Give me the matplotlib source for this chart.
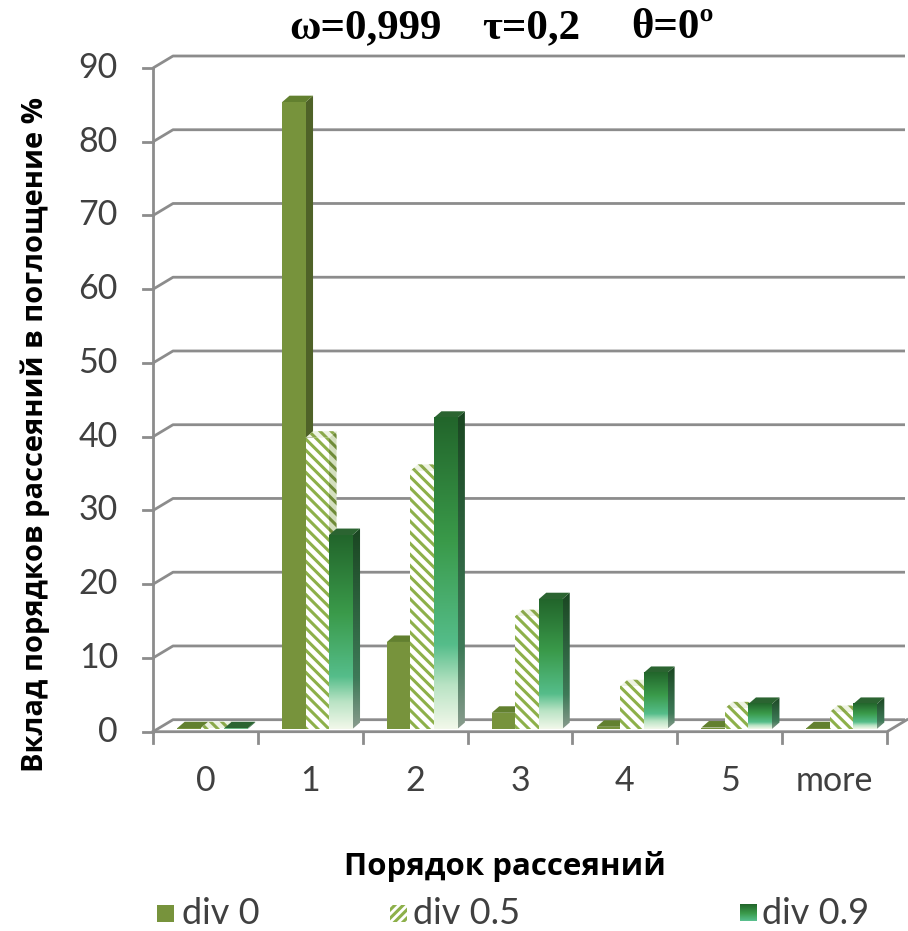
import matplotlib.pyplot as plt
import numpy as np
from matplotlib.patches import Polygon, Rectangle
from matplotlib.colors import LinearSegmentedColormap

plt.rcParams['hatch.linewidth'] = 2.2

categories = ['0', '1', '2', '3', '4', '5', 'more']
div0 = [0.1, 85.0, 11.8, 2.2, 0.3, 0.2, 0.1]
div05 = [0.1, 39.5, 35.0, 15.3, 5.8, 2.8, 2.3]
div09 = [0.1, 26.3, 42.2, 17.6, 7.6, 3.4, 3.4]
series_names = ['div 0', 'div 0.5', 'div 0.9']
y_ticks = list(range(0, 100, 10))

W, H = 908, 931
fig = plt.figure(figsize=(W / 100, H / 100), dpi=100)

# axes = front plane of the 3d box (pixel box)
x0px, x1px, ytop, ybot = 153, 887, 68, 731.7
ax = fig.add_axes([x0px / W, (H - ybot) / H, (x1px - x0px) / W, (ybot - ytop) / H])
ncat = len(categories)
ax.axis('off')

ppx = (x1px - x0px) / ncat
ppy = (ybot - ytop) / 90


def px(dx, dy):
    return dx / ppx, dy / ppy


grid_c = '#8c8c8c'
txt_c = '#404040'
num_font = 'Lato'
cyr_font = 'Open Sans'
num_size = 24.5

# back wall / floor
wdx, wdy = px(20, 12)
xr_end = -0.5 + (905 - x0px) / ppx
for v in y_ticks:
    ax.plot([-0.5, -0.5 + wdx, xr_end], [v, v + wdy, v + wdy], color=grid_c,
            lw=2.0, clip_on=False, zorder=1, solid_capstyle='butt')
    ax.plot([-0.5 - 10 / ppx, -0.5], [v, v], color=grid_c, lw=2.0, clip_on=False, zorder=1)
    ax.text(-0.5 - 35 / ppx, v, str(v), ha='right', va='center', fontsize=num_size,
            color=txt_c, family=num_font)
ax.plot([-0.5, -0.5], [0, 90], color=grid_c, lw=2.0, clip_on=False, zorder=1)
ax.plot([-0.5, ncat - 0.5, ncat - 0.5 + wdx], [0, 0, wdy], color=grid_c, lw=2.0,
        clip_on=False, zorder=1)
for b in np.arange(-0.5, ncat):
    ax.plot([b, b], [0, -11 / ppy], color=grid_c, lw=2.0, clip_on=False, zorder=1)
for i, c in enumerate(categories):
    ax.text(i, -(781 - ybot) / ppy, c, ha='center', va='center', fontsize=num_size,
            color=txt_c, family=num_font)

# bar geometry
bdx, bdy = px(7, 2.7)
w = 23.5 / ppx
ddx, ddy = px(7.5, 6.5)

front_cmap = LinearSegmentedColormap.from_list('front', [
    (0.0, '#f2f8ea'), (0.14, '#b9e3c4'), (0.27, '#55bd8a'),
    (0.6, '#3a9a4a'), (1.0, '#22652b')])
side_cmap = LinearSegmentedColormap.from_list('side', [
    (0.0, '#8a9c8e'), (0.25, '#3e7a58'), (1.0, '#1a4621')])
grad = np.linspace(1, 0, 256).reshape(-1, 1)

z = 3.0
for i in range(ncat):
    for j, vals in enumerate([div0, div05, div09]):
        v = vals[i]
        xl = i + bdx - 1.5 * w + j * w
        xr = xl + w
        b, t = bdy, bdy + v
        side = [(xr, b), (xr + ddx, b + ddy), (xr + ddx, t + ddy), (xr, t)]
        top = [(xl, t), (xr, t), (xr + ddx, t + ddy), (xl + ddx, t + ddy)]
        if j == 0:
            ax.add_patch(Polygon(side, closed=True, fc='#4f6228', lw=0, zorder=z))
            ax.add_patch(Polygon(top, closed=True, fc='#62802f', lw=0, zorder=z + 0.001))
            ax.add_patch(Rectangle((xl, b), w, v, fc='#77933c', lw=0, zorder=z + 0.002))
        elif j == 1:
            ax.add_patch(Polygon(side, closed=True, fc='#d4dfbf', ec='#6f8b38',
                                 hatch='\\\\\\', lw=0, zorder=z))
            ax.add_patch(Polygon(top, closed=True, fc='#eef3e2', ec='#8aa84a',
                                 hatch='\\\\\\', lw=0, zorder=z + 0.001))
            ax.add_patch(Rectangle((xl, b), w, v, fc='white', ec='#8db04a',
                                   hatch='\\\\\\', lw=0, zorder=z + 0.002))
        else:
            sp = Polygon(side, closed=True, fc='none', lw=0, zorder=z)
            ax.add_patch(sp)
            im = ax.imshow(side_cmap(grad), extent=[xr, xr + ddx, b, t + ddy],
                           aspect='auto', zorder=z, interpolation='bilinear')
            im.set_clip_path(sp)
            ax.add_patch(Polygon(top, closed=True, fc='#2b6431', lw=0, zorder=z + 0.001))
            ax.imshow(front_cmap(grad), extent=[xl, xr, b, t], aspect='auto',
                      zorder=z + 0.002, interpolation='bilinear')
        z += 0.01

ax.set_xlim(-0.5, ncat - 0.5)
ax.set_ylim(0, 90)

# titles
for xc, s in zip([365, 531, 673], ['ω=0,999', 'τ=0,2', 'θ=0º']):
    fig.text(xc / W, 1 - 28 / H, s, ha='center', va='center', fontsize=31,
             fontweight='bold', family='Liberation Serif')
fig.text(505 / W, 1 - 866 / H, 'Порядок рассеяний', ha='center', va='center',
         fontsize=22.5, fontweight='bold', family=cyr_font)
fig.text(35 / W, 1 - 435 / H, 'Вклад порядков рассеяний в поглощение %', ha='center',
         va='center', rotation=90, fontsize=21, fontweight='bold', family=cyr_font)

# legend
lg_y = 913
lg = fig.add_axes([0, 0, 1, 1], zorder=-1)
lg.axis('off')
mk = 17
lg.add_patch(Rectangle((157, lg_y - mk / 2), mk, mk, fc='#77933c', lw=0))
lg.add_patch(Rectangle((390, lg_y - mk / 2), mk, mk, fc='white', ec='#8db04a',
                       hatch='////', lw=0))
lg.imshow(front_cmap(np.linspace(1, 0.25, 64).reshape(-1, 1)),
          extent=[740, 740 + mk, lg_y + mk / 2, lg_y - mk / 2], aspect='auto')
for xt, name in zip([182, 413, 762], series_names):
    lg.text(xt, lg_y, name, ha='left', va='center', fontsize=26, color=txt_c,
            family=num_font)
lg.set_xlim(0, W)
lg.set_ylim(H, 0)

fig.savefig('out.png', dpi=100, facecolor='white')
